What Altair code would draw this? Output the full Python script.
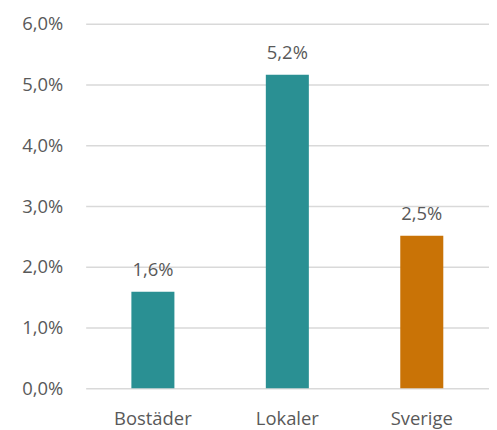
import altair as alt
import pandas as pd

categories = ["Bostäder", "Lokaler", "Sverige"]
values = [1.59, 5.16, 2.51]
labels = ["1,6%", "5,2%", "2,5%"]
colors = ["#2A9093", "#2A9093", "#C97306"]

df = pd.DataFrame({"cat": categories, "val": values, "lab": labels, "col": colors})

FONT = "Open Sans"
GRAY = "#595959"
FS = 18.5

base = alt.Chart(df).encode(
    x=alt.X("cat:N", sort=categories, title=None,
            scale=alt.Scale(paddingInner=0.68, paddingOuter=0.34),
            axis=alt.Axis(labelAngle=0, labelFont=FONT, labelFontSize=FS,
                          labelColor=GRAY, ticks=False, domain=False,
                          labelPadding=21)),
    y=alt.Y("val:Q", title=None,
            scale=alt.Scale(domain=[0, 6]),
            axis=alt.Axis(values=[0, 1, 2, 3, 4, 5, 6],
                          labelExpr="replace(format(datum.value, '.1f'), '.', ',') + '%'",
                          labelFont=FONT, labelFontSize=FS, labelColor=GRAY,
                          ticks=False, domain=False, labelPadding=23,
                          gridColor="#D9D9D9", gridWidth=1.5)),
)

bars = base.mark_bar().encode(color=alt.Color("col:N", scale=None))
text = base.mark_text(dy=-16, font=FONT, fontSize=FS, color=GRAY, baseline="alphabetic").encode(
    text="lab:N")

chart = (bars + text).properties(
    width=405, height=366,
    autosize=alt.AutoSizeParams(type="none"),
    padding={"left": 78, "top": 15, "right": 0, "bottom": 40},
).configure_view(stroke=None)

chart.save("out.html", embed_options={"renderer": "svg", "actions": False})
